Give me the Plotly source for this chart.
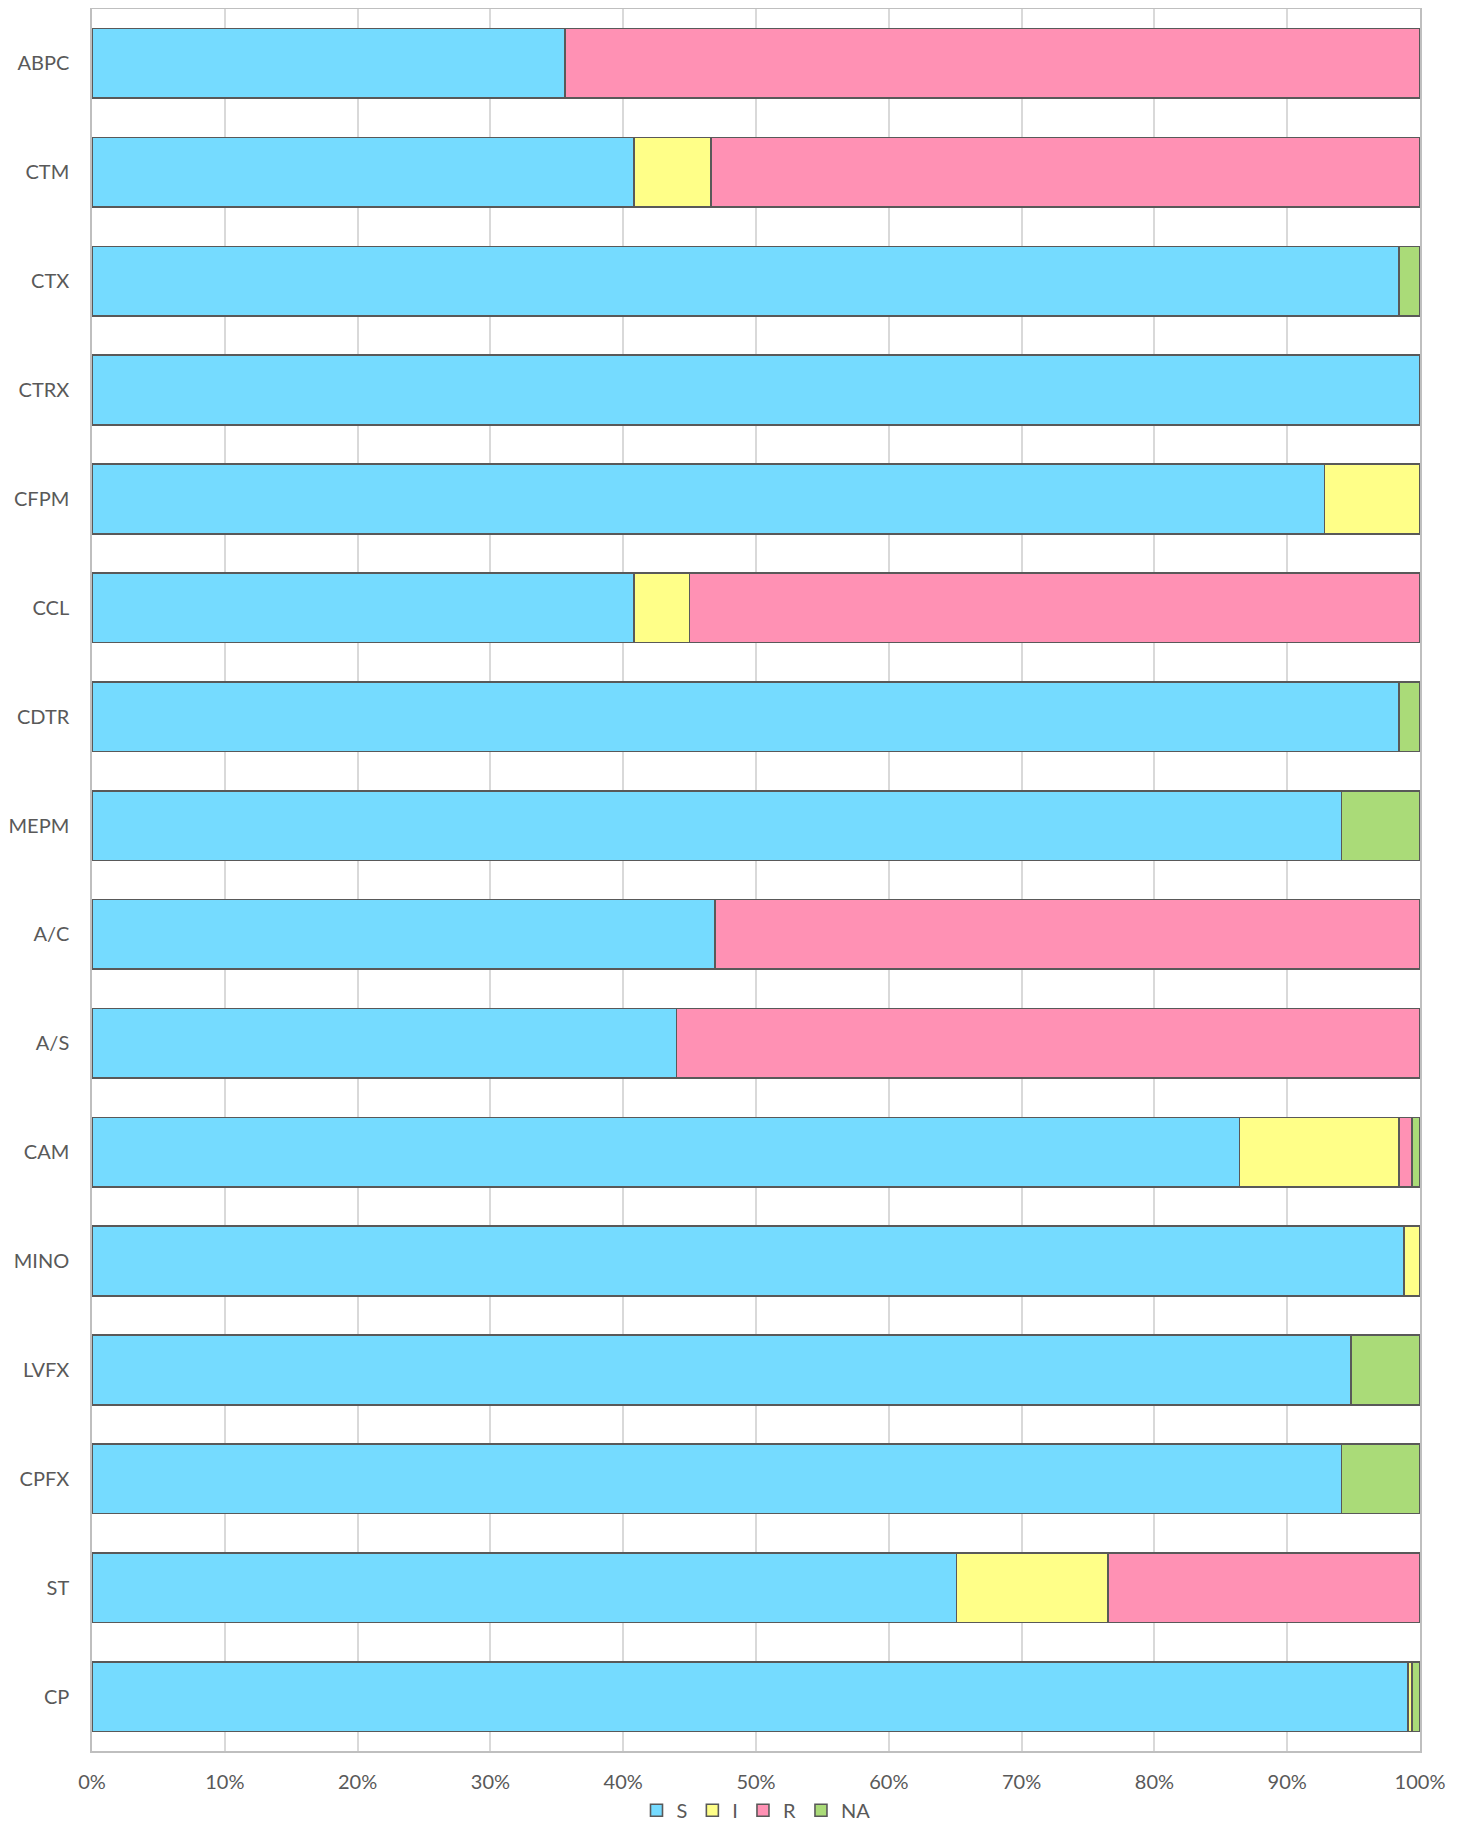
import plotly.graph_objects as go

categories = ["ABPC", "CTM", "CTX", "CTRX", "CFPM", "CCL", "CDTR", "MEPM",
              "A/C", "A/S", "CAM", "MINO", "LVFX", "CPFX", "ST", "CP"]
S = [35.6, 40.8, 98.4, 100.0, 92.8, 40.8, 98.4, 94.1, 46.9, 44.0, 86.4, 98.8, 94.8, 94.1, 65.1, 99.1]
I = [0.0, 5.8, 0.0, 0.0, 7.2, 4.2, 0.0, 0.0, 0.0, 0.0, 12.0, 1.2, 0.0, 0.0, 11.4, 0.3]
R = [64.4, 53.4, 0.0, 0.0, 0.0, 55.0, 0.0, 0.0, 53.1, 56.0, 1.0, 0.0, 0.0, 0.0, 23.5, 0.0]
NA = [0.0, 0.0, 1.6, 0.0, 0.0, 0.0, 1.6, 5.9, 0.0, 0.0, 0.6, 0.0, 5.2, 5.9, 0.0, 0.6]
x_ticks = [0, 10, 20, 30, 40, 50, 60, 70, 80, 90, 100]
x_tick_labels = [f"{v}%" for v in x_ticks]

series = [("S", S, "#75DBFF"), ("I", I, "#FFFF88"), ("R", R, "#FF91B4"), ("NA", NA, "#AADB78")]

fig = go.Figure()
for name, vals, col in series:
    fig.add_trace(go.Bar(
        y=categories, x=vals, name=name, orientation="h",
        marker=dict(color=col, line=dict(color="#595959", width=1.6)),
    ))

font_fam = "Lato, 'Open Sans', sans-serif"
fig.update_layout(
    barmode="stack", bargap=0.36,
    width=1455, height=1824,
    margin=dict(l=84, r=43, t=1, b=81, autoexpand=False),
    plot_bgcolor="white", paper_bgcolor="white",
    font=dict(family=font_fam, size=20, color="#595959"),
    legend=dict(orientation="h", x=0.5, xanchor="center", y=-0.034, yanchor="middle",
                font=dict(size=20, color="#595959"), itemwidth=30, traceorder="normal"),
    xaxis=dict(range=[0, 100], tickmode="array", tickvals=x_ticks, ticktext=x_tick_labels,
               showgrid=True, gridcolor="#D9D9D9", gridwidth=1.5, zeroline=False, showline=True,
               linecolor="#BFBFBF", linewidth=1.5, mirror=True, ticks="",
               ticklabelstandoff=12, automargin=False),
    yaxis=dict(categoryorder="array", categoryarray=categories, autorange="reversed",
               showgrid=False, showline=True, linecolor="#BFBFBF", linewidth=1.5,
               mirror=True, ticks="", ticklabelstandoff=17, automargin=False),
)
fig.write_html("out.html")
